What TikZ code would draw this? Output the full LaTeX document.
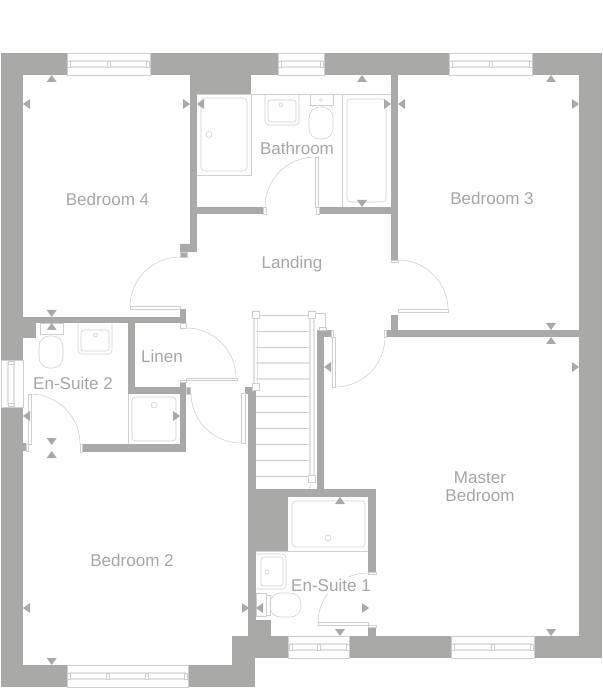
\documentclass[tikz,border=0pt]{standalone}
\usepackage{fontspec}
\setmainfont{Liberation Sans}
\definecolor{wallgrey}{HTML}{A9A9A8}
\definecolor{linegrey}{HTML}{CFCFCF}
\definecolor{railgrey}{HTML}{E2E2E2}
\definecolor{textgrey}{HTML}{A6A6A6}
\tikzset{
  wall/.style = {fill=wallgrey},
  fixture/.style = {draw=linegrey, line width=0.32pt},
  rail/.style = {draw=railgrey, line width=0.6pt},
  sizemark/.style = {fill=wallgrey},
  room/.style = {text=textgrey, font=\fontsize{9.7}{10.3}\selectfont, align=center, inner sep=1pt}
}

\begin{document}
\begin{tikzpicture}[x=0.02cm,y=-0.02cm]
\useasboundingbox (0,0) rectangle (602,688);
% outer walls
\fill[wall] (1,53) rectangle (23,360);
\fill[wall] (1,407) rectangle (23,687);
\fill[wall] (1,53) rectangle (67,75);
\fill[wall] (150,53) rectangle (278,75);
\fill[wall] (324,53) rectangle (449,75);
\fill[wall] (532,53) rectangle (602,75);
\fill[wall] (579,53) rectangle (602,658);
\fill[wall] (534,636) rectangle (602,658);
\fill[wall] (349,636) rectangle (451,658);
\fill[wall] (232,636) rectangle (288,658);
\fill[wall] (1,665) rectangle (67,687);
\fill[wall] (188,665) rectangle (255,687);
\fill[wall] (232,636) rectangle (255,687);
% inner walls
\fill[wall] (190,75) rectangle (197,252);
\fill[wall] (190,75) rectangle (251,94);
\fill[wall] (197,207) rectangle (263,214);
\fill[wall] (180,244) -- (190,244) -- (190,252) -- (187,252) -- (187,257) -- (180,257) -- cycle;
\fill[wall] (391,75) rectangle (398,260);
\fill[wall] (319,207) rectangle (391,214);
\fill[wall] (391,315) rectangle (398,330);
\fill[wall] (386,330) rectangle (579,337);
\fill[wall] (23,317) rectangle (186,323);
\fill[wall] (180,309) rectangle (186,317);
\fill[wall] (23,317) rectangle (36,338);
\fill[wall] (128,323) rectangle (135,394);
\fill[wall] (128,387) rectangle (190,394);
\fill[wall] (180,382) rectangle (186,452);
\fill[wall] (82,444) rectangle (186,452);
\fill[wall] (23,443) rectangle (26,451);
\fill[wall] (248,387) rectangle (256,636);
\fill[wall] (245,387) rectangle (256,394);
\fill[wall] (317,330) rectangle (324,490);
\fill[wall] (317,330) rectangle (331,337);
\fill[wall] (248,489) rectangle (376,497);
\fill[wall] (248,489) rectangle (288,551);
\fill[wall] (368,489) rectangle (376,572);
\fill[wall] (368,627) rectangle (376,636);
\fill[wall] (248,620) rectangle (271,636);
% windows
\draw[fixture] (67,53) rectangle (150,75);
\draw[rail] (69,61) -- (148,61) (69,67) -- (148,67);
\draw[fixture,fill=white] (67.5,61) rectangle (70.5,67) (107,61) rectangle (110,67) (146.5,61) rectangle (149.5,67);
\draw[fixture] (278,53) rectangle (324,75);
\draw[rail] (280,61) -- (322,61) (280,67) -- (322,67);
\draw[fixture,fill=white] (278.5,61) rectangle (281.5,67) (320.5,61) rectangle (323.5,67);
\draw[fixture] (449,53) rectangle (532,75);
\draw[rail] (451,61) -- (530,61) (451,67) -- (530,67);
\draw[fixture,fill=white] (449.5,61) rectangle (452.5,67) (489.5,61) rectangle (492.5,67) (529,61) rectangle (532,67);
\draw[fixture] (451,636) rectangle (534,658);
\draw[rail] (453,644) -- (532,644) (453,650) -- (532,650);
\draw[fixture,fill=white] (451.5,644) rectangle (454.5,650) (491,644) rectangle (494,650) (530.5,644) rectangle (533.5,650);
\draw[fixture] (288,636) rectangle (349,658);
\draw[rail] (290,644) -- (347,644) (290,650) -- (347,650);
\draw[fixture,fill=white] (289,644) rectangle (292,650) (317.5,644) rectangle (320.5,650) (346,644) rectangle (349,650);
\draw[fixture] (67,665) rectangle (188,687);
\draw[rail] (69,673) -- (186,673) (69,679) -- (186,679);
\draw[fixture,fill=white] (67.5,673) rectangle (70.5,679) (106,673) rectangle (109,679) (145.5,673) rectangle (148.5,679) (184.5,673) rectangle (187.5,679);
\draw[fixture] (1,360) rectangle (23,407);
\draw[rail] (8,362) -- (8,405) (14,362) -- (14,405);
\draw[fixture,fill=white] (8,361) rectangle (14,364) (8,403) rectangle (14,406);
% doors
\draw[fixture] (265,207) arc[start angle=180,end angle=90,radius=1cm];
\draw[fixture,fill=white] (315,157) rectangle (318,207) (316,207) rectangle (319,214) (263,207) rectangle (266,214);
\draw[fixture] (130,307) arc[start angle=180,end angle=90,radius=1cm];
\draw[fixture,fill=white] (130,306) rectangle (180,309);
\draw[fixture] (180,257) rectangle (187,252);
\draw[fixture] (448,310) arc[start angle=0,end angle=90,radius=1cm];
\draw[fixture,fill=white] (398,309) rectangle (448,312);
\draw[fixture] (391,260) rectangle (398,262);
\draw[fixture] (236,378) arc[start angle=0,end angle=90,radius=1cm];
\draw[fixture,fill=white] (186,378) rectangle (237,380);
\draw[fixture] (180,323) rectangle (186,328);
\draw[fixture] (180,380) rectangle (186,382);
\draw[fixture] (241,443) arc[start angle=270,end angle=180,radius=1cm];
\draw[fixture,fill=white] (241,393) rectangle (245,443);
\draw[fixture] (186,387) rectangle (190,394);
\draw[fixture] (80,444) arc[start angle=0,end angle=90,radius=1cm];
\draw[fixture,fill=white] (28,394) rectangle (31,444);
\draw[fixture] (26,444) rectangle (28,451) (80,444) rectangle (82,452);
\draw[fixture] (335,387) arc[start angle=270,end angle=360,radius=1cm];
\draw[fixture,fill=white] (332,337) rectangle (335,387);
\draw[fixture] (331,330) rectangle (333,337) (384,330) rectangle (386,337);
\draw[fixture] (318,623) arc[start angle=180,end angle=90,radius=1cm];
\draw[fixture,fill=white] (318,622) rectangle (368,625);
\draw[fixture] (368,572) rectangle (376,574) (368,625) rectangle (376,627);
% stairs
\draw[fixture] (256,331) -- (310,331);
\draw[fixture] (256,347) -- (310,347);
\draw[rail] (256,363) -- (310,363);
\draw[rail] (256,379) -- (310,379);
\draw[fixture] (256,396) -- (310,396);
\draw[fixture] (256,412) -- (310,412);
\draw[fixture] (256,428) -- (310,428);
\draw[fixture] (256,444) -- (310,444);
\draw[fixture] (256,460) -- (310,460);
\draw[fixture] (256,476) -- (310,476);
\draw[fixture] (256,315) -- (312,315);
\draw[rail] (254,318) -- (254,386) (257.5,318) -- (257.5,386);
\draw[rail] (310,318) -- (310,476) (314,318) -- (314,476);
\draw[fixture] (315,313) -- (325,313) -- (325,327);
\draw[fixture] (319,327) rectangle (326,330);
\draw[fixture] (311,484) -- (309,489);
\draw[fixture,fill=white] (252.5,311) rectangle (259.5,318) (308.5,311) rectangle (315.5,318) (252.5,383.5) rectangle (259.5,390.5) (308.5,475.5) rectangle (315.5,482.5);
% bathroom
\draw[fixture] (197,94) -- (391,94);
\draw[fixture] (251,94) -- (251,175) -- (197,175);
\draw[fixture,rounded corners=2pt] (201,98) rectangle (247,171);
\draw[fixture] (209,134.5) circle (3);
\draw[fixture,rounded corners=2pt] (265,94) -- (265,125) -- (299,125) -- (299,94);
\draw[fixture,rounded corners=1.5pt] (268,100) -- (268,122) -- (296,122) -- (296,100) -- cycle;
\draw[fixture] (281,105) circle (2);
\draw[fixture] (310,94) rectangle (333,105);
\draw[fixture] (321,100) circle (1.5);
\draw[fixture,rounded corners=6pt] (309,107) rectangle (333,139);
\draw[fixture] (312,105) -- (312,107) (331,105) -- (331,107);
\draw[fixture] (342,94) -- (342,207);
\draw[fixture,rounded corners=2pt] (347,99) rectangle (386,202);
% en-suite 2
\draw[fixture] (40,323) rectangle (63,334);
\draw[fixture,rounded corners=6pt] (39,336) rectangle (63,368);
\draw[fixture,rounded corners=2pt] (78,323) -- (78,354) -- (112,354) -- (112,323);
\draw[fixture,rounded corners=1.5pt] (81,330) -- (81,351) -- (109,351) -- (109,330) -- cycle;
\draw[fixture] (95.5,335) circle (2);
\draw[fixture] (128,394) -- (128,444);
\draw[fixture,rounded corners=2pt] (132,397) rectangle (176,441);
\draw[fixture] (154,405) circle (3);
% en-suite 1
\draw[fixture] (256,551) -- (368,551);
\draw[fixture,rounded corners=2pt] (292,501) rectangle (365,547);
\draw[fixture] (328,538) circle (3);
\draw[fixture,rounded corners=2pt] (256,554) -- (286,554) -- (286,589) -- (256,589);
\draw[fixture,rounded corners=1.5pt] (261,557) -- (283,557) -- (283,586) -- (261,586) -- cycle;
\draw[fixture] (267,572) circle (2);
\draw[fixture] (256,593) rectangle (266,616);
\draw[fixture] (266,595) rectangle (270,615);
\draw[fixture,rounded corners=6pt] (270,593) rectangle (301,617);
% size marks
\fill[sizemark] (51.7,75) -- (46.7,82) -- (56.7,82) -- cycle;
\fill[sizemark] (362,75) -- (357,82) -- (367,82) -- cycle;
\fill[sizemark] (551,75) -- (546,82) -- (556,82) -- cycle;
\fill[sizemark] (23,104) -- (30,99) -- (30,109) -- cycle;
\fill[sizemark] (190,104) -- (183,99) -- (183,109) -- cycle;
\fill[sizemark] (197,104) -- (204,99) -- (204,109) -- cycle;
\fill[sizemark] (391,104) -- (384,99) -- (384,109) -- cycle;
\fill[sizemark] (398,104) -- (405,99) -- (405,109) -- cycle;
\fill[sizemark] (579,104) -- (572,99) -- (572,109) -- cycle;
\fill[sizemark] (362,207) -- (357,200) -- (367,200) -- cycle;
\fill[sizemark] (51.7,317) -- (46.7,310) -- (56.7,310) -- cycle;
\fill[sizemark] (51.7,323) -- (46.7,330) -- (56.7,330) -- cycle;
\fill[sizemark] (23,416) -- (30,411) -- (30,421) -- cycle;
\fill[sizemark] (180,416) -- (173,411) -- (173,421) -- cycle;
\fill[sizemark] (51.7,445) -- (46.7,438) -- (56.7,438) -- cycle;
\fill[sizemark] (51.7,451) -- (46.7,458) -- (56.7,458) -- cycle;
\fill[sizemark] (324,367) -- (331,362) -- (331,372) -- cycle;
\fill[sizemark] (551,330) -- (546,323) -- (556,323) -- cycle;
\fill[sizemark] (551,337) -- (546,344) -- (556,344) -- cycle;
\fill[sizemark] (579,367) -- (572,362) -- (572,372) -- cycle;
\fill[sizemark] (340,497) -- (335,504) -- (345,504) -- cycle;
\fill[sizemark] (249,608) -- (242,603) -- (242,613) -- cycle;
\fill[sizemark] (256,608) -- (263,603) -- (263,613) -- cycle;
\fill[sizemark] (369,608) -- (362,603) -- (362,613) -- cycle;
\fill[sizemark] (23,608) -- (30,603) -- (30,613) -- cycle;
\fill[sizemark] (340,636) -- (335,629) -- (345,629) -- cycle;
\fill[sizemark] (551,636) -- (546,629) -- (556,629) -- cycle;
\fill[sizemark] (51.7,665) -- (46.7,658) -- (56.7,658) -- cycle;
% room names
\node[room] (bed4) at (107.5,199) {Bedroom 4};
\node[room] (bath) at (297,148) {Bathroom};
\node[room] (landing) at (292,264.5) {Landing};
\node[room] (bed3) at (492,198) {Bedroom 3};
\node[room] (linen) at (162,356.5) {Linen};
\node[room] (ensuite2) at (73,383) {En-Suite 2};
\node[room] (master) at (480,487) {Master\\Bedroom};
\node[room] (bed2) at (132,560.5) {Bedroom 2};
\node[room,fill=white] (ensuite1) at (331,585) {En-Suite 1};
\end{tikzpicture}
\end{document}
